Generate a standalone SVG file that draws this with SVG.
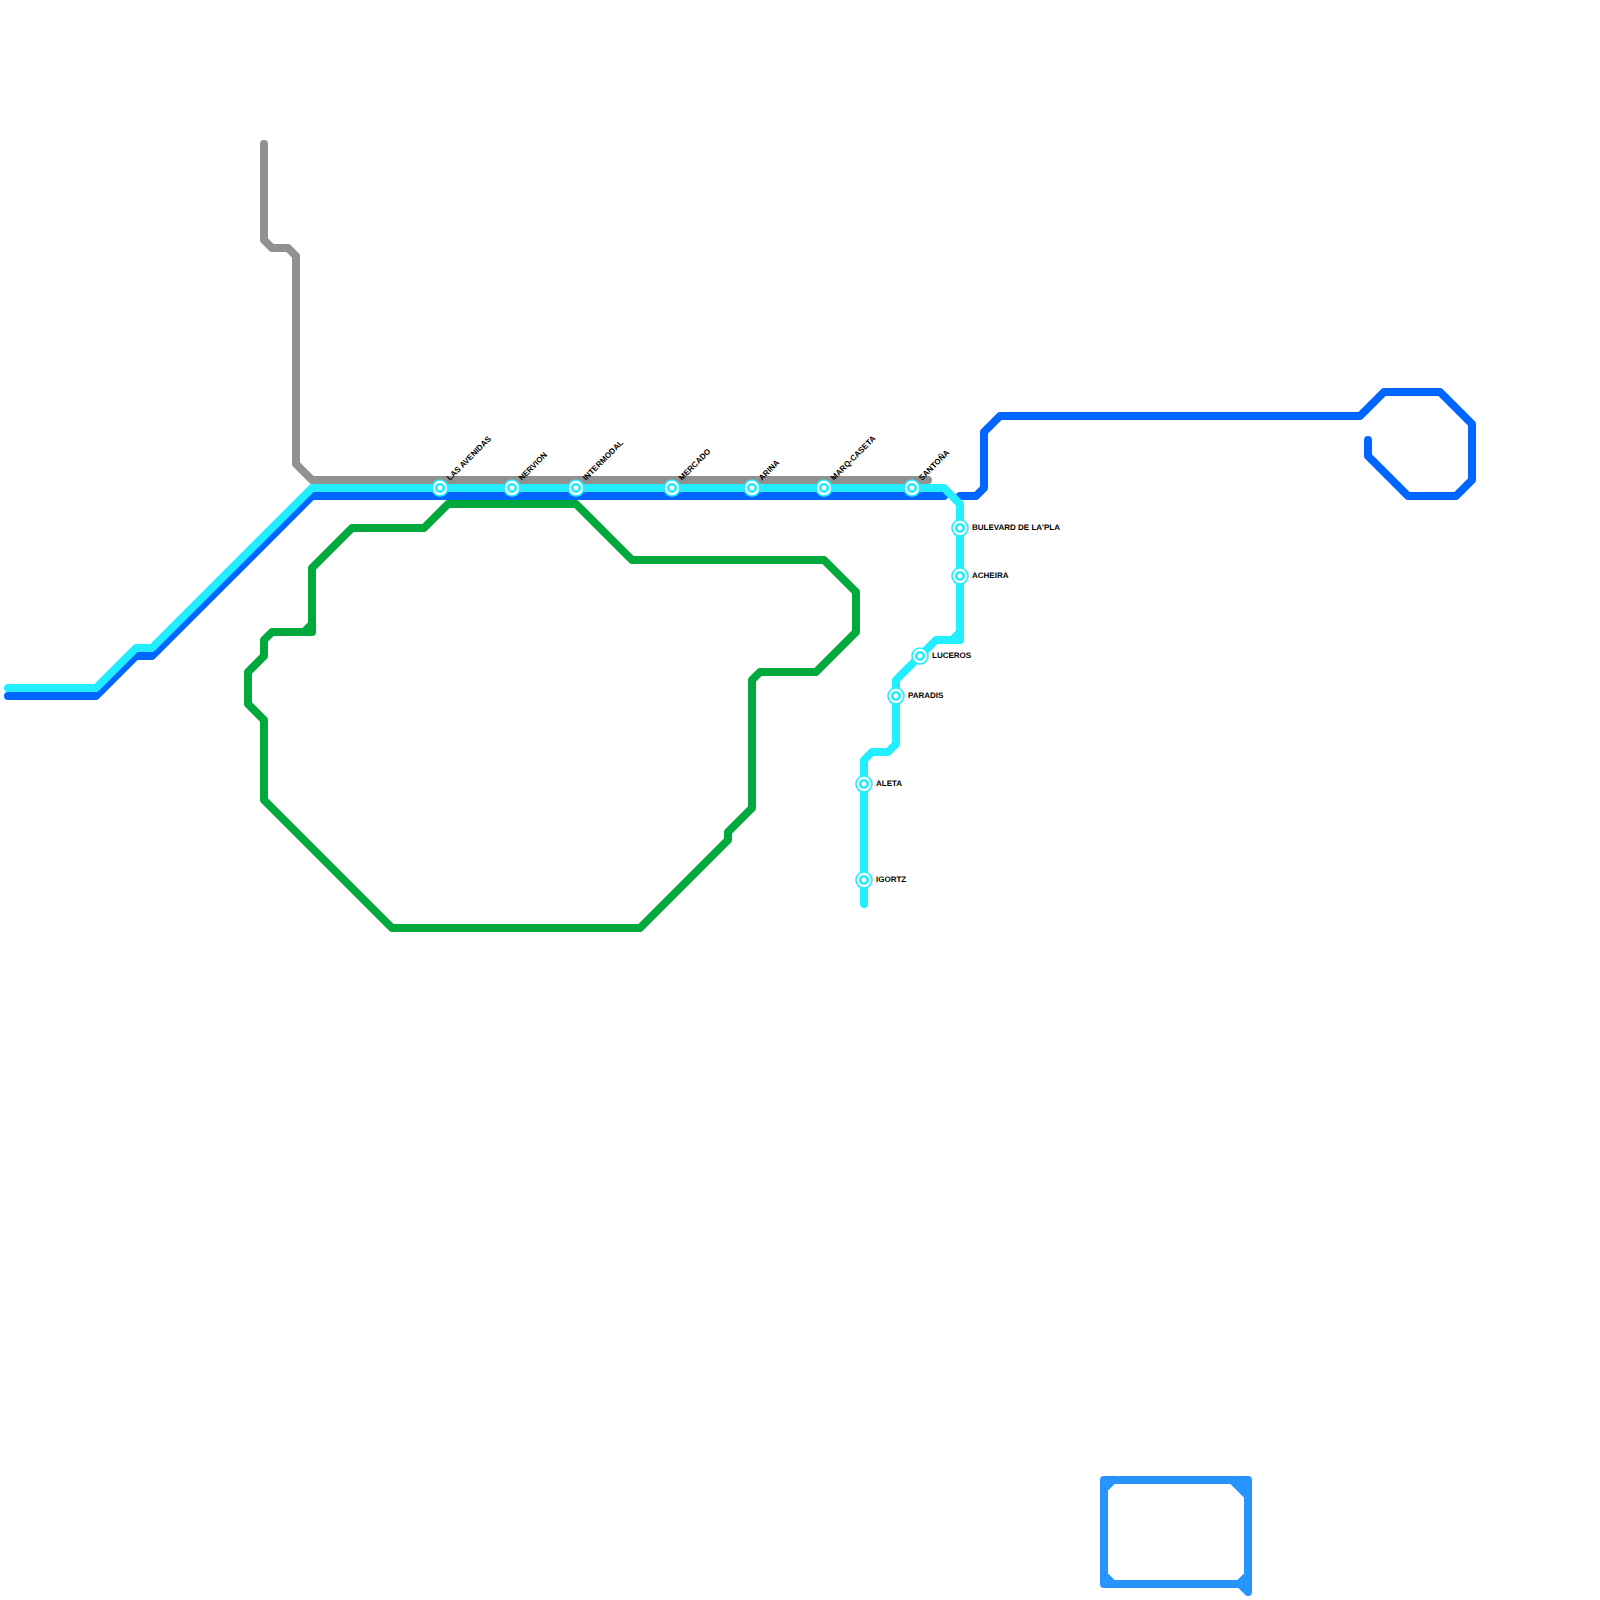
<svg xmlns="http://www.w3.org/2000/svg" width="1600" height="1600" viewBox="0 0 1600 1600">
<style>
.l{fill:none;stroke-width:8;stroke-linejoin:round;stroke-linecap:round}
.gray{stroke:#919191}.cy{stroke:#22eeff}.bl{stroke:#0066ff}.gr{stroke:#00a83e}.lb{stroke:#2894ff}
.o{fill:#22eeff}.w{fill:#fff}
text{font-family:"Liberation Sans",Arial,sans-serif;font-size:8px;font-weight:bold;fill:#000;text-rendering:geometricPrecision}
</style>
<defs>
<g id="st"><circle r="8.8" class="o"/><circle r="7.2" class="w"/><circle r="5" class="o"/><circle r="2.4" class="w"/></g>
</defs>
<rect width="1600" height="1600" fill="#fff"/>
<g id="connectors">
<path class="l gray" d="M264 144V240L272 248H288L296 256V464L312 480H928"/>
<path class="l bl" d="M8 696H96L136 656H152L312 496H944"/>
<path class="l bl" d="M960 496H976L984 488V432L1000 416H1360L1384 392H1440L1472 424V480L1456 496H1408L1368 456V440"/>
<path class="l gr" d="M312 568V632H272L264 640V656L248 672V704L264 720V800L392 928H640L728 840V832L752 808V680L760 672H816L856 632V592L824 560H632L576 504H448L424 528H352Z"/>
<path class="l gr" d="M304 632L312 624"/>
<path class="l cy" d="M8 688H96L136 648H152L312 488H944L960 504V640H936L896 680V744L888 752H872L864 760V904"/>
<path class="l cy" d="M952 640L960 632"/>
<path class="l lb" d="M1104 1480H1248V1592L1240 1584H1104Z"/>
<path class="l lb" d="M1104 1489L1113 1480M1232 1480L1248 1496M1248 1575L1239 1584M1104 1575L1113 1584"/>
<path d="M1232 1484L1244 1496V1484ZM1240 1584H1248V1592Z" fill="#2894ff"/>
</g>
<g id="n1"><use href="#st" x="440" y="488"/><text transform="translate(450 481) rotate(-45)">LAS AVENIDAS</text></g>
<g id="n2"><use href="#st" x="512" y="488"/><text transform="translate(522 481) rotate(-45)">NERVION</text></g>
<g id="n3"><use href="#st" x="576" y="488"/><text transform="translate(586 481) rotate(-45)">INTERMODAL</text></g>
<g id="n4"><use href="#st" x="672" y="488"/><text transform="translate(682 481) rotate(-45)">MERCADO</text></g>
<g id="n5"><use href="#st" x="752" y="488"/><text transform="translate(762 481) rotate(-45)">ARINA</text></g>
<g id="n6"><use href="#st" x="824" y="488"/><text transform="translate(834 481) rotate(-45)">MARQ-CASETA</text></g>
<g id="n7"><use href="#st" x="912" y="488"/><text transform="translate(922 481) rotate(-45)">SANTOÑA</text></g>
<g id="n8"><use href="#st" x="960" y="528"/><text x="972" y="530">BULEVARD DE LA'PLA</text></g>
<g id="n9"><use href="#st" x="960" y="576"/><text x="972" y="578">ACHEIRA</text></g>
<g id="n10"><use href="#st" x="920" y="656"/><text x="932" y="657.5">LUCEROS</text></g>
<g id="n11"><use href="#st" x="896" y="696"/><text x="908" y="697.5">PARADIS</text></g>
<g id="n12"><use href="#st" x="864" y="784"/><text x="876" y="785.5">ALETA</text></g>
<g id="n13"><use href="#st" x="864" y="880"/><text x="876" y="881.5">IGORTZ</text></g>
</svg>
